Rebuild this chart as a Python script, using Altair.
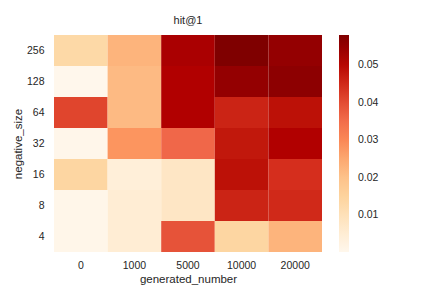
import altair as alt
import pandas as pd

generated_number = ["0", "1000", "5000", "10000", "20000"]
negative_size = ["256", "128", "64", "32", "16", "8", "4"]
# rows follow negative_size order (top to bottom), columns follow generated_number
hit_at_1 = [
    [0.013, 0.023, 0.052, 0.058, 0.055],
    [0.0002, 0.022, 0.051, 0.055, 0.056],
    [0.041, 0.022, 0.051, 0.046, 0.049],
    [0.0006, 0.028, 0.036, 0.048, 0.051],
    [0.014, 0.004, 0.008, 0.049, 0.044],
    [0.0007, 0.005, 0.008, 0.046, 0.045],
    [0.0008, 0.005, 0.039, 0.014, 0.023],
]
orrd = ["#fff7ec", "#fee8c8", "#fdd49e", "#fdbb84", "#fc8d59",
        "#ef6548", "#d7301f", "#b30000", "#7f0000"]

rows = []
for i, ns in enumerate(negative_size):
    for j, gn in enumerate(generated_number):
        rows.append({"generated_number": gn, "negative_size": ns, "value": hit_at_1[i][j]})
df = pd.DataFrame(rows)

vmin = min(min(r) for r in hit_at_1)
vmax = max(max(r) for r in hit_at_1)
stops = [vmin + (vmax - vmin) * k / (len(orrd) - 1) for k in range(len(orrd))]

font = "Liberation Sans"
chart = alt.Chart(df).mark_rect().encode(
    x=alt.X("generated_number:O", sort=generated_number, title="generated_number",
            scale=alt.Scale(paddingInner=0, paddingOuter=0),
            axis=alt.Axis(labelAngle=0, domain=False, ticks=False, labelPadding=8,
                          titlePadding=3)),
    y=alt.Y("negative_size:O", sort=negative_size, title="negative_size",
            scale=alt.Scale(paddingInner=0, paddingOuter=0),
            axis=alt.Axis(domain=False, ticks=False, labelPadding=10, titlePadding=3)),
    color=alt.Color("value:Q", scale=alt.Scale(domain=stops, range=orrd, nice=False),
                    legend=alt.Legend(title=None, orient="none", legendX=285, legendY=0,
                                      gradientLength=217, gradientThickness=10,
                                      values=[0.01, 0.02, 0.03, 0.04, 0.05],
                                      format=".2f", labelOffset=9,
                                      gradientStrokeWidth=0)),
).properties(
    width=268, height=217,
    title=alt.TitleParams("hit@1", fontSize=11, fontWeight="normal", font=font,
                          color="#262626", offset=9),
    padding={"left": 46, "top": 27, "right": 94, "bottom": 35},
    autosize=alt.AutoSizeParams(type="none"),
).configure_view(stroke=None).configure_axis(
    labelFont=font, titleFont=font, labelFontSize=10.5, titleFontSize=11.5,
    labelColor="#262626", titleColor="#262626", titleFontWeight="normal", grid=False,
).configure_legend(labelFont=font, labelFontSize=10.5, labelColor="#262626")

chart.save("out.html", embed_options={"renderer": "svg", "actions": False})
